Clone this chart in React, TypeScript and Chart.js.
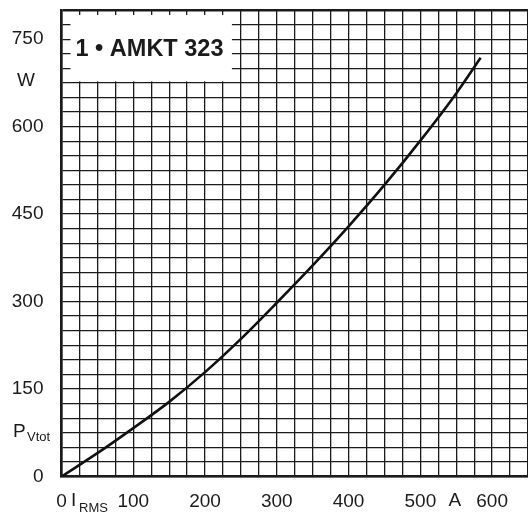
import React, { useEffect, useRef } from "react";
import { Chart, registerables } from "chart.js";

Chart.register(...registerables);

// Total power loss P_Vtot (W) versus RMS current I_RMS (A)
const currentA = [0, 50, 100, 150, 200, 250, 300, 350, 400, 450, 500, 550, 584];
const lossW = [0, 40, 83, 128, 179, 236, 298, 362, 429, 500, 576, 657, 718];

const xLabelValues = [0, 100, 200, 300, 400, 500, 600];
const yLabelValues = [0, 150, 300, 450, 600, 750];
const title = "1 \u2022 AMKT 323";

const FONT = "'Liberation Sans', Arial, sans-serif";
const INK = "#1b1b1b";

const annotations = {
  id: "annotations",
  beforeDatasetsDraw(chart: any) {
    const { ctx } = chart;
    const xs = chart.scales.x;
    const ys = chart.scales.y;
    ctx.save();
    // title box over the upper-left grid cells
    const left = xs.getPixelForValue(0) + 9;
    const right = xs.getPixelForValue(250) - 9;
    const top = ys.getPixelForValue(800) + 5;
    const bottom = ys.getPixelForValue(675) - 1.5;
    ctx.fillStyle = "#ffffff";
    ctx.fillRect(left, top, right - left, bottom - top);
    ctx.fillStyle = INK;
    ctx.font = `bold 23.5px ${FONT}`;
    ctx.textBaseline = "middle";
    ctx.textAlign = "left";
    ctx.fillText(title, left + 5, (top + bottom) / 2 + 1);

    // axis unit labels
    ctx.font = `19px ${FONT}`;
    ctx.textAlign = "center";
    ctx.fillText("W", 26, ys.getPixelForValue(678));
    ctx.textAlign = "left";
    ctx.fillText("P", 13, ys.getPixelForValue(77));
    ctx.font = `13px ${FONT}`;
    ctx.fillText("Vtot", 27, ys.getPixelForValue(77) + 6);

    const xAxisText = 501;
    ctx.font = `19px ${FONT}`;
    ctx.fillText("I", 71, xAxisText);
    ctx.font = `13px ${FONT}`;
    ctx.fillText("RMS", 79, xAxisText + 7);
    ctx.font = `19px ${FONT}`;
    ctx.textAlign = "center";
    ctx.fillText("A", xs.getPixelForValue(548), xAxisText);
    ctx.restore();
  },
};

export default function App() {
  const ref = useRef<HTMLCanvasElement | null>(null);

  useEffect(() => {
    if (!ref.current) return;
    const chart = new Chart(ref.current, {
      type: "line",
      data: {
        datasets: [
          {
            data: currentA.map((x, i) => ({ x, y: lossW[i] })),
            borderColor: "#111111",
            borderWidth: 2.6,
            pointRadius: 0,
            fill: false,
            cubicInterpolationMode: "monotone",
          },
        ],
      },
      options: {
        responsive: false,
        animation: false,
        layout: { padding: { top: 10, right: 0, left: 0, bottom: 0 } },
        plugins: { legend: { display: false }, tooltip: { enabled: false } },
        scales: {
          x: {
            type: "linear",
            min: 0,
            max: 650,
            afterFit: (s: any) => {
              s.height = 36.5;
              s.paddingLeft = 0;
              s.paddingRight = 0;
            },
            grid: {
              color: INK,
              lineWidth: 1.3,
              drawTicks: false,
            },
            border: { display: true, color: INK, width: 2.6 },
            ticks: {
              stepSize: 25,
              autoSkip: false,
              maxTicksLimit: 100,
              maxRotation: 0,
              padding: 14,
              color: INK,
              font: { family: FONT, size: 19 },
              callback: (v: any) => (xLabelValues.includes(Number(v)) ? String(v) : ""),
            },
          },
          y: {
            type: "linear",
            min: 0,
            max: 800,
            afterFit: (s: any) => {
              s.width = 61.5;
              s.paddingTop = 0;
              s.paddingBottom = 0;
            },
            grid: {
              color: INK,
              lineWidth: (c: any) => (c.tick && c.tick.value === 800 ? 2.6 : 1.3),
              drawTicks: false,
            },
            border: { display: true, color: INK, width: 2.6 },
            ticks: {
              stepSize: 25,
              autoSkip: false,
              maxTicksLimit: 100,
              padding: 18,
              color: INK,
              font: { family: FONT, size: 19 },
              callback: (v: any) => (yLabelValues.includes(Number(v)) ? String(v) : ""),
            },
          },
        },
      },
      plugins: [annotations],
    });
    return () => chart.destroy();
  }, []);

  return (
    <div style={{ position: "fixed", left: 0, top: 0, width: 528, height: 513, background: "#fff" }}>
      <canvas ref={ref} width={528} height={513} />
    </div>
  );
}
